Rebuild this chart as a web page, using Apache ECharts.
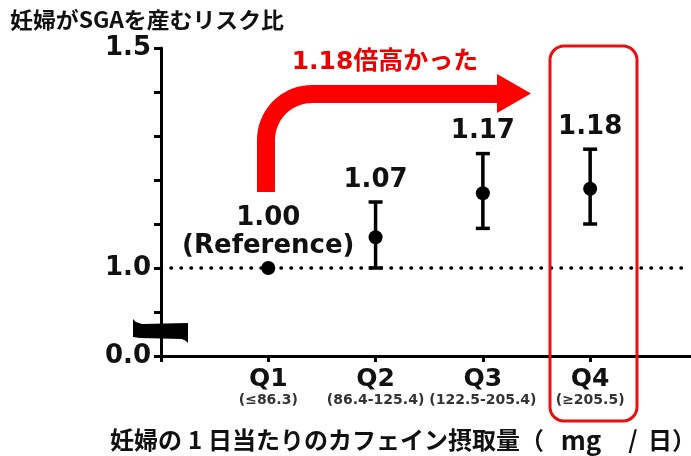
<!DOCTYPE html>
<html>
<head>
<meta charset="utf-8">
<script src="https://cdn.jsdelivr.net/npm/echarts@6/dist/echarts.min.js"></script>
<style>
html,body{margin:0;padding:0;background:#fff;}
#chart{width:691px;height:456px;}
</style>
</head>
<body>
<div id="chart"></div>
<script>
// ---- data ----
const categories = ['Q1', 'Q2', 'Q3', 'Q4'];
const ranges = ['(≤86.3)', '(86.4-125.4)', '(122.5-205.4)', '(≥205.5)'];
const ratio = [1.00, 1.07, 1.17, 1.18];
const lower = [null, 1.00, 1.09, 1.10];
const upper = [null, 1.15, 1.26, 1.27];
const valueLabels = ['1.00\n(Reference)', '1.07', '1.17', '1.18'];
const yTickValues = [0.8, 1.0, 1.5];      // 0.8 sits at the broken-axis origin
const yTickTexts = ['0.0', '1.0', '1.5'];
const referenceLine = 1.0;

const NUM_FONT = '"DejaVu Sans"';
const JP_FONT = '"Noto Sans CJK JP"';

const chart = echarts.init(document.getElementById('chart'), null, {renderer: 'canvas'});

const pointData = ratio.map((v, i) => [i + 1, v]);
const barData = ratio.map((v, i) => [i + 1, lower[i] == null ? v : lower[i], upper[i] == null ? v : upper[i], i, lower[i] == null ? 0 : 1]);

// arrow centerline: vertical stem, rounded corner, horizontal run
const arrowPts = [[266, 192]];
const R = 46, cx = 266 + R, cy = 94 + R;
for (let k = 0; k <= 20; k++) {
  const a = Math.PI + (Math.PI / 2) * (k / 20);
  arrowPts.push([cx + R * Math.cos(a), cy + R * Math.sin(a)]);
}
arrowPts.push([500, 94]);
// axis-break symbol outline
const breakPts = [[133, 319], [136, 322], [142, 324], [188, 323], [188, 343], [186, 341], [182, 339], [140, 338], [133, 337]];

const option = {
  animation: false,
  backgroundColor: '#fff',
  grid: {left: 161, right: 0, top: 48, bottom: 100},
  xAxis: {
    type: 'value', min: 0, max: 4.94, interval: 1,
    axisLine: {show: true, lineStyle: {color: '#000', width: 3}},
    axisTick: {show: true, customValues: [0, 1, 2, 3, 4], length: 6, lineStyle: {color: '#000', width: 3}},
    splitLine: {show: false},
    axisLabel: {
      customValues: [1, 2, 3, 4],
      margin: 11,
      formatter: v => '{q|' + categories[v - 1] + '}\n{s|' + ranges[v - 1] + '}',
      rich: {
        q: {fontFamily: NUM_FONT, fontWeight: 'bold', fontSize: 25, color: '#111', lineHeight: 24},
        s: {fontFamily: NUM_FONT, fontWeight: 'bold', fontSize: 14, color: '#333', lineHeight: 18}
      }
    }
  },
  yAxis: {
    type: 'value', min: 0.8, max: 1.5, interval: 0.1,
    axisLine: {show: true, lineStyle: {color: '#000', width: 3}},
    axisTick: {show: true, length: 7, lineStyle: {color: '#000', width: 3}},
    splitLine: {show: false},
    axisLabel: {
      customValues: yTickValues,
      margin: 10,
      fontFamily: NUM_FONT, fontWeight: 'bold', fontSize: 26, color: '#111',
      formatter: v => {
        const k = yTickValues.findIndex(t => Math.abs(t - v) < 1e-6);
        return k >= 0 ? yTickTexts[k] : '';
      }
    }
  },
  series: [
    {
      type: 'custom',
      z: 3,
      renderItem: (params, api) => {
        const x = api.value(0), lo = api.value(1), hi = api.value(2), idx = api.value(3), hasBar = api.value(4);
        const pLo = api.coord([x, lo]);
        const pHi = api.coord([x, hi]);
        const children = [];
        const ls = {stroke: '#000', lineWidth: 3.5};
        if (hasBar) {
          children.push({type: 'line', shape: {x1: pLo[0], y1: pLo[1], x2: pHi[0], y2: pHi[1]}, style: ls});
          children.push({type: 'line', shape: {x1: pHi[0] - 7, y1: pHi[1], x2: pHi[0] + 7, y2: pHi[1]}, style: ls});
          children.push({type: 'line', shape: {x1: pLo[0] - 7, y1: pLo[1], x2: pLo[0] + 7, y2: pLo[1]}, style: ls});
        }
        children.push({
          type: 'text',
          style: {
            text: valueLabels[idx], x: pHi[0], y: pHi[1] - 8,
            align: 'center', verticalAlign: 'bottom',
            fontFamily: NUM_FONT, fontWeight: 'bold', fontSize: 26, lineHeight: 28, fill: '#111'
          }
        });
        return {type: 'group', children};
      },
      data: barData
    },
    {
      type: 'scatter',
      z: 4,
      symbol: 'circle',
      symbolSize: 14,
      itemStyle: {color: '#000', opacity: 1},
      data: pointData,
      markLine: {
        silent: true,
        symbol: ['none', 'none'],
        label: {show: false},
        lineStyle: {color: '#000', width: 3.5, type: [0.5, 9.5], cap: 'round', opacity: 1},
        data: [{yAxis: referenceLine}]
      }
    }
  ],
  graphic: [
    {type: 'text', x: 10, y: 20, scaleX: 1.04, style: {text: '妊婦がSGAを産むリスク比', verticalAlign: 'middle', fontFamily: JP_FONT, fontWeight: 'bold', fontSize: 22, fill: '#111'}},
    {type: 'text', x: 110, y: 440, style: {
      text: '妊婦の{n|1}日当たりのカフェイン摂取量（{u|mg}{s|/}日）',
      verticalAlign: 'middle',
      fontFamily: JP_FONT, fontWeight: 'bold', fontSize: 24, fill: '#111',
      rich: {
        n: {fontFamily: JP_FONT, fontWeight: 'bold', fontSize: 24, width: 26, align: 'center'},
        u: {fontFamily: JP_FONT, fontWeight: 'bold', fontSize: 26, width: 74, align: 'center'},
        s: {fontFamily: JP_FONT, fontWeight: 'bold', fontSize: 24, width: 30, align: 'center'}
      }
    }},
    {type: 'polygon', z: 10, shape: {points: breakPts}, style: {fill: '#000'}},
    {type: 'polyline', z: 5, shape: {points: arrowPts}, style: {fill: null, stroke: '#ff0000', lineWidth: 18, lineJoin: 'round'}},
    {type: 'polygon', z: 5, shape: {points: [[497, 74], [531, 93.5], [497, 113]]}, style: {fill: '#ff0000'}},
    {type: 'text', z: 5, x: 385, y: 62, style: {text: '1.18倍高かった', align: 'center', verticalAlign: 'middle', fontFamily: '"DejaVu Sans", "Noto Sans CJK JP"', fontWeight: 'bold', fontSize: 25, fill: '#ee0000'}},
    {type: 'rect', z: 6, shape: {x: 550, y: 46, width: 87, height: 375, r: 14}, style: {fill: null, stroke: '#e81010', lineWidth: 3}}
  ]
};
chart.setOption(option);
</script>
</body>
</html>
